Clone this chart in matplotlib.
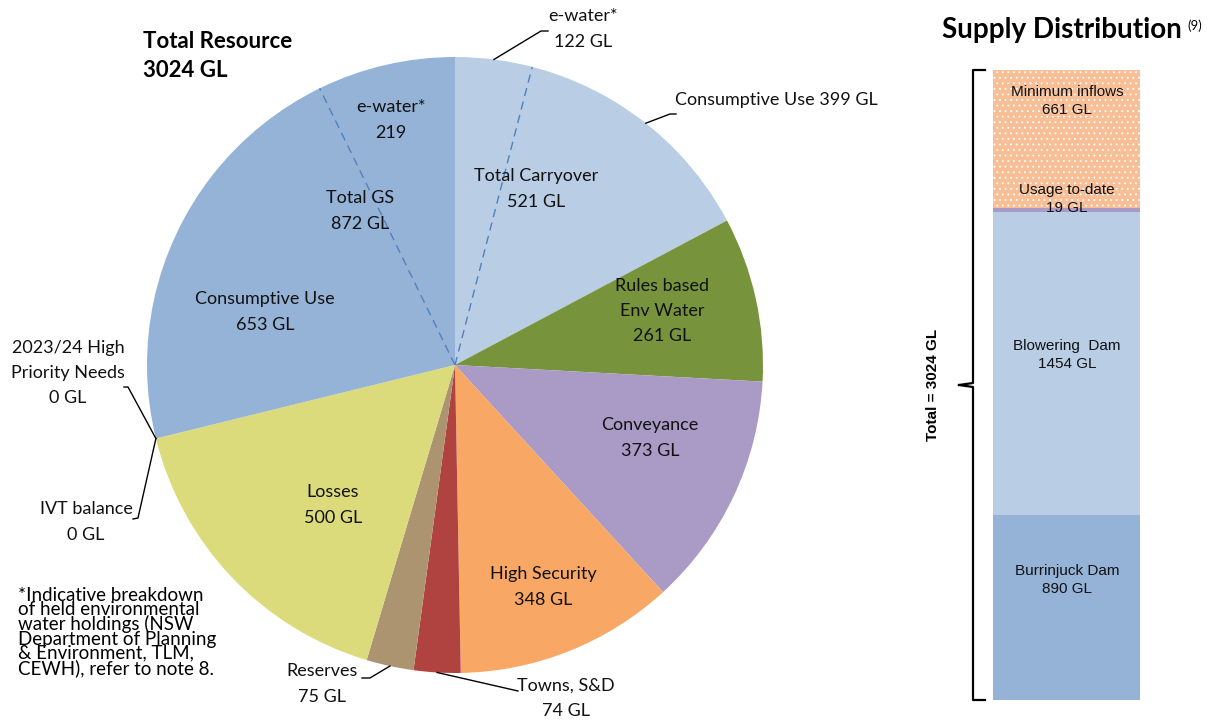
import matplotlib.pyplot as plt
import numpy as np

plt.rcParams["hatch.linewidth"] = 0.6

# dades del pastís (sentit horari des de dalt)
pie_names = ["Total Carryover", "Rules based Env Water", "Conveyance", "High Security",
             "Towns, S&D", "Reserves", "Losses", "IVT balance",
             "2023/24 High Priority Needs", "Total GS"]
pie_values = [521, 261, 373, 348, 74, 75, 500, 0, 0, 872]
pie_colors = ["#b9cde5", "#77933c", "#a99ac6", "#f8a864", "#b04340",
              "#ad9470", "#dcdb7b", "#dcdb7b", "#95b3d7", "#95b3d7"]

carryover_ewater = 122
carryover_consumptive = 399
gs_consumptive = 653
gs_ewater = 219
total_resource = 3024

# dades de la barra
bar_names = ["Burrinjuck Dam", "Blowering  Dam", "Usage to-date", "Minimum inflows"]
bar_values = [890, 1454, 19, 661]
bar_colors = ["#95b3d7", "#b9cde5", "#a99ac6", "#f8bf96"]

W, H = 1216, 720
fig = plt.figure(figsize=(W / 100, H / 100), dpi=100)
ax = fig.add_axes([0, 0, 1, 1])

CX, CY, R = 455, 355, 308
FONT = "Lato"
FS = 13


def Y(y):
    # coordenades de la imatge (y cap avall) a coordenades de l'eix
    return H - y


def punt(cum, r=R):
    ang = np.deg2rad(90 - 360 * cum / total_resource)
    return CX + r * np.cos(ang), CY + r * np.sin(ang)


vals = [v for v in pie_values if v > 0]
cols = [c for v, c in zip(pie_values, pie_colors) if v > 0]
ax.pie(vals, colors=cols, startangle=90, counterclock=False, center=(CX, CY),
       radius=R, frame=True, wedgeprops=dict(linewidth=0))

# línies discontínues de l'e-water
for cum in (carryover_ewater, total_resource - gs_ewater):
    x, y = punt(cum)
    ax.plot([CX, x], [CY, y], ls=(0, (6, 4)), color="#4f81bd", lw=1)

# etiquetes interiors
interiors = [
    ("e-water*\n219", 391, 120),
    ("Total GS\n872 GL", 360, 211),
    ("Consumptive Use\n653 GL", 265, 312),
    ("Total Carryover\n521 GL", 536, 189),
    ("Rules based\nEnv Water\n261 GL", 662, 311),
    ("Conveyance\n373 GL", 650, 438),
    ("High Security\n348 GL", 543, 587),
    ("Losses\n500 GL", 333, 505),
]
for txt, x, y in interiors:
    ax.text(x, Y(y), txt, ha="center", va="center", fontsize=FS, family=FONT,
            linespacing=1.7, color="#111111")

# etiquetes exteriors amb línies guia
cum_list = np.cumsum(pie_values)
a_ew = punt(carryover_ewater / 2)
a_cu = punt(carryover_ewater + carryover_consumptive / 2)
a_zero = punt(cum_list[6])
a_res = punt(cum_list[4] + pie_values[5] / 2)
a_town = punt(cum_list[3] + pie_values[4] / 2)

guies = [
    (a_ew, [(541, 31), (548, 31)]),
    (a_cu, [(670, 114), (676, 114)]),
    (a_zero, [(128, 387), (124, 387)]),
    (a_zero, [(138, 518), (133, 519)]),
    (a_res, [(370, 678), (362, 678)]),
    (a_town, [(518, 691)]),
]
for (ax0, ay0), pts in guies:
    xs = [ax0] + [p[0] for p in pts]
    ys = [ay0] + [Y(p[1]) for p in pts]
    ax.plot(xs, ys, color="black", lw=1)

exteriors = [
    ("e-water*\n122 GL", 583, 29, "center"),
    ("Consumptive Use 399 GL", 675, 100, "left"),
    ("2023/24 High\nPriority Needs\n0 GL", 68, 373, "center"),
    ("IVT balance\n0 GL", 86, 522, "center"),
    ("Reserves\n75 GL", 322, 684, "center"),
    ("Towns, S&D\n74 GL", 566, 698, "center"),
]
for txt, x, y, ha in exteriors:
    ax.text(x, Y(y), txt, ha=ha, va="center", fontsize=FS, family=FONT,
            linespacing=1.7, color="#111111")

ax.text(143, Y(56), "Total Resource\n3024 GL", ha="left", va="center", fontsize=16,
        family=FONT, fontweight="bold", linespacing=1.5)

ax.text(18, Y(632), "*Indicative breakdown\nof held environmental\nwater holdings (NSW\n"
        "Department of Planning\n& Environment, TLM,\nCEWH), refer to note 8.",
        ha="left", va="center", fontsize=13.5, family=FONT, linespacing=0.8)

# clau de la barra
bx, top, bot = 973, 70, 700
ax.plot([bx + 12, bx, bx, bx - 14], [Y(top), Y(top), Y(383), Y(385)], color="black", lw=1.6)
ax.plot([bx - 14, bx, bx, bx + 12], [Y(385), Y(387), Y(bot), Y(bot)], color="black", lw=1.6)
ax.text(933, Y(385), "Total = 3024 GL", rotation=90, ha="center", va="center",
        fontsize=11, family="Liberation Sans", fontweight="bold")

ax.text(942, Y(30), "Supply Distribution", ha="left", va="center", fontsize=20,
        family=FONT, fontweight="bold")
ax.text(1187, Y(26), "(9)", ha="left", va="center", fontsize=9.5, family=FONT)

ax.set_xlim(0, W)
ax.set_ylim(0, H)
ax.axis("off")

# barra apilada
bax = fig.add_axes([993 / W, 20 / H, 147 / W, 630 / H])
bottom = 0
for name, v, c in zip(bar_names, bar_values, bar_colors):
    if name == "Minimum inflows":
        bax.bar(0, v, bottom=bottom, width=1, color=c, hatch="...",
                edgecolor="white", lw=0)
    else:
        bax.bar(0, v, bottom=bottom, width=1, color=c, lw=0)
    bottom += v
bax.set_xlim(-0.5, 0.5)
bax.set_ylim(0, sum(bar_values))
bax.axis("off")

bar_labels = [
    ("Burrinjuck Dam\n890 GL", 580),
    ("Blowering  Dam\n1454 GL", 355),
    ("Usage to-date\n19 GL", 199),
    ("Minimum inflows\n661 GL", 101),
]
for txt, y in bar_labels:
    bax.text(1067, Y(y), txt, ha="center", va="center", fontsize=11,
             family="Liberation Sans", linespacing=1.45, color="#111111",
             transform=ax.transData, clip_on=False)

fig.savefig("out.png", dpi=100)
